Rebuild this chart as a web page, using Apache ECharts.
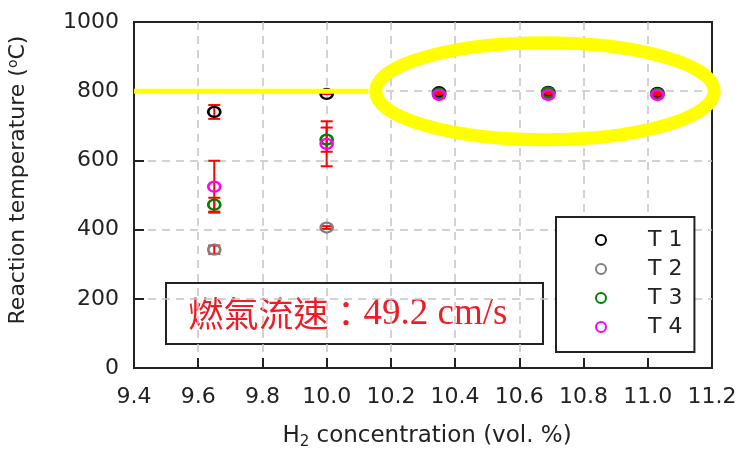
<!DOCTYPE html>
<html>
<head>
<meta charset="utf-8">
<script src="https://cdn.jsdelivr.net/npm/echarts@6/dist/echarts.min.js"></script>
<style>
  html, body { margin: 0; padding: 0; background: #fff; }
  #main { width: 741px; height: 452px; }
</style>
</head>
<body>
<div id="main"></div>
<script>
// H2 concentration (vol. %)
var xs = [9.65, 10.0, 10.35, 10.69, 11.03];

// reaction temperatures (deg C) and error half-widths
var t1 = [740, 792, 797, 798, 795];
var t2 = [342, 406, 792, 795, 792];
var t3 = [472, 660, 793, 796, 792];
var t4 = [524, 648, 789, 789, 789];
var t1Err = [20, 0, 6, 6, 5];
var t2Err = [12, 4, 4, 4, 4];
var t3Err = [20, 35, 5, 5, 5];
var t4Err = [75, 65, 8, 8, 6];

// yellow highlight: line at 800 and ellipse round the last three points
var hiLine = [[9.4, 800], [10.13, 800]];
var hiEllipse = [[10.68, 800, 0.527, 140]]; // cx, cy, rx, ry in data units

var FONT = 'DejaVu Sans';
var INK = '#222';

var chart = echarts.init(document.getElementById('main'));

function pts(vals) {
    return xs.map(function (x, i) { return [x, vals[i]]; });
}

function errSeries(vals, errs) {
    return {
        type: 'custom',
        silent: true,
        z: 2,
        data: xs.map(function (x, i) { return [x, vals[i] - errs[i], vals[i] + errs[i]]; }),
        renderItem: function (params, api) {
            var lo = api.coord([api.value(0), api.value(1)]);
            var hi = api.coord([api.value(0), api.value(2)]);
            var w = 6;
            var st = { stroke: '#ff0000', lineWidth: 2 };
            return {
                type: 'group',
                children: [
                    { type: 'line', shape: { x1: lo[0], y1: lo[1], x2: hi[0], y2: hi[1] }, style: st },
                    { type: 'line', shape: { x1: lo[0] - w, y1: lo[1], x2: lo[0] + w, y2: lo[1] }, style: st },
                    { type: 'line', shape: { x1: hi[0] - w, y1: hi[1], x2: hi[0] + w, y2: hi[1] }, style: st }
                ]
            };
        }
    };
}

function dotSeries(name, vals, color) {
    return {
        name: name,
        type: 'scatter',
        z: 3,
        symbol: 'circle',
        symbolSize: [12, 10],
        itemStyle: { color: 'rgba(255,255,255,0)', borderColor: color, borderWidth: 2.5, opacity: 1 },
        data: pts(vals)
    };
}

var split = { show: true, showMinLine: false, showMaxLine: false, lineStyle: { color: '#c4c4c4', type: [8, 6], width: 1.5 } };

var option = {
    animation: false,
    grid: {
        left: 134, right: 29, top: 22, bottom: 84,
        outerBoundsMode: 'none',
        show: true, borderColor: INK, borderWidth: 2
    },
    xAxis: {
        type: 'value',
        min: 9.4, max: 11.2, interval: 0.2,
        name: '{a|H}{sub|2}{a| concentration (vol. %)}',
        nameLocation: 'middle',
        nameGap: 55,
        nameTextStyle: {
            padding: [0, 0, 0, 8],
            rich: {
                a: { fontSize: 23, fontFamily: FONT, color: INK },
                sub: { fontSize: 15, fontFamily: FONT, color: INK, verticalAlign: 'bottom', padding: [12, 0, 0, 0] }
            }
        },
        axisLine: { lineStyle: { color: INK, width: 2 } },
        axisTick: { inside: true, length: 10, lineStyle: { color: INK, width: 2 } },
        axisLabel: {
            margin: 18, fontSize: 22, fontFamily: FONT, color: INK,
            formatter: function (v) { return v.toFixed(1); }
        },
        splitLine: split
    },
    yAxis: {
        type: 'value',
        min: 0, max: 1000, interval: 200,
        name: '{a|Reaction temperature (}{sup|o}{a|C)}',
        nameLocation: 'middle',
        nameGap: 104,
        nameTextStyle: {
            padding: [0, 0, 0, 30],
            rich: {
                a: { fontSize: 22, fontFamily: FONT, color: INK },
                sup: { fontSize: 14, fontFamily: FONT, color: INK, verticalAlign: 'top', padding: [0, 0, 10, 0] }
            }
        },
        axisLine: { show: true, lineStyle: { color: INK, width: 2 } },
        axisTick: { show: true, inside: true, length: 10, lineStyle: { color: INK, width: 2 } },
        axisLabel: {
            margin: 15, fontSize: 22, fontFamily: FONT, color: INK,
            formatter: function (v) { return String(v); }
        },
        splitLine: split
    },
    legend: {
        data: ['T1', 'T2', 'T3', 'T4'],
        orient: 'vertical',
        left: 556, top: 217,
        padding: [12, 12, 14, 39],
        itemGap: 7,
        itemWidth: 12, itemHeight: 10,
        backgroundColor: '#fff',
        borderColor: INK, borderWidth: 2, borderRadius: 0,
        formatter: function (n) { return n.replace('T', 'T '); },
        textStyle: { fontSize: 22, lineHeight: 22, fontFamily: FONT, color: INK, padding: [0, 0, 0, 36] }
    },
    graphic: [{
        type: 'group',
        left: 165, top: 282,
        z: 50,
        children: [{
            type: 'rect',
            shape: { x: 0, y: 0, width: 377, height: 61 },
            style: { fill: '#fff', stroke: INK, lineWidth: 2 }
        }, {
            type: 'text',
            x: 182, y: 31,
            style: {
                text: '{c|燃氣流速：}{n|49.2 cm/s}',
                align: 'center', verticalAlign: 'middle',
                rich: {
                    c: { fontSize: 35, fontFamily: 'Noto Sans CJK TC', fill: '#ee1c24' },
                    n: { fontSize: 37, fontFamily: 'Liberation Serif', fill: '#ee1c24' }
                }
            }
        }]
    }],
    series: [
        errSeries(t1, t1Err),
        errSeries(t2, t2Err),
        errSeries(t3, t3Err),
        errSeries(t4, t4Err),
        dotSeries('T1', t1, '#000000'),
        dotSeries('T2', t2, '#808080'),
        dotSeries('T3', t3, '#008000'),
        dotSeries('T4', t4, '#ff00ff'),
        {
            type: 'line',
            silent: true,
            z: 10,
            symbol: 'none',
            data: hiLine,
            lineStyle: { color: '#ffff00', width: 5 }
        },
        {
            type: 'custom',
            silent: true,
            z: 10,
            clip: false,
            data: hiEllipse,
            renderItem: function (params, api) {
                var c = api.coord([api.value(0), api.value(1)]);
                var s = api.size([api.value(2), api.value(3)]);
                return {
                    type: 'ellipse',
                    shape: { cx: c[0], cy: c[1], rx: s[0], ry: s[1] },
                    style: { fill: 'none', stroke: '#ffff00', lineWidth: 13 }
                };
            }
        }
    ]
};

chart.setOption(option);
</script>
</body>
</html>
